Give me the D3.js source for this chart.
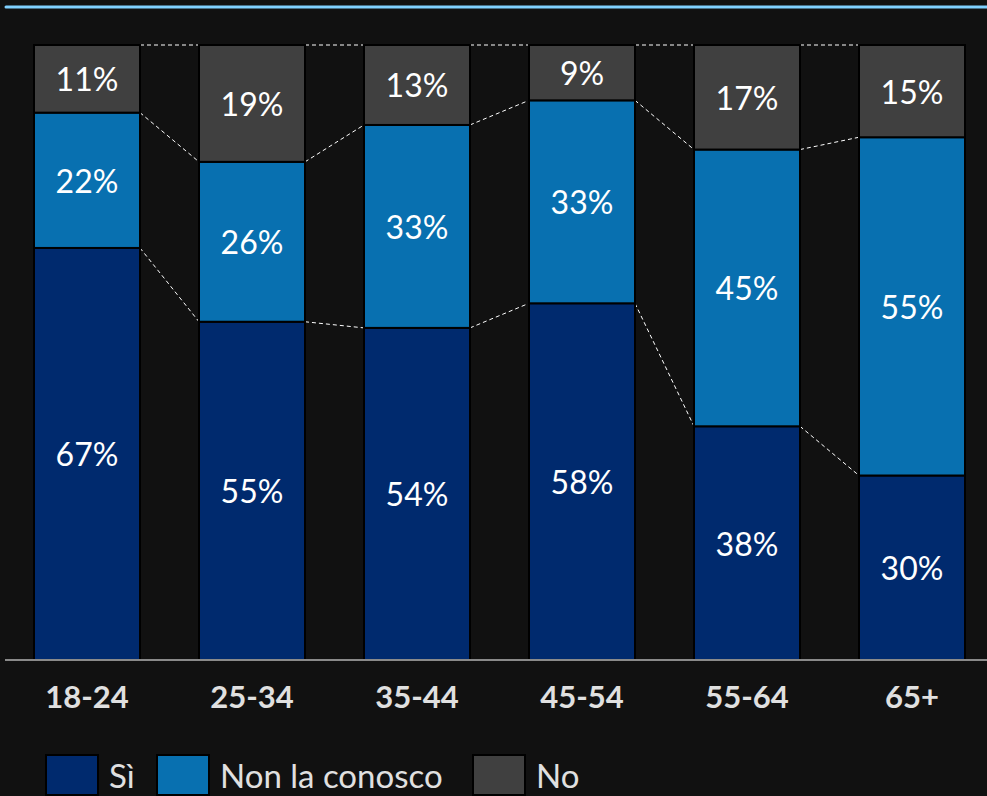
<!DOCTYPE html>
<html>
<head>
<meta charset="utf-8">
<script src="https://cdn.jsdelivr.net/npm/d3@7/dist/d3.min.js"></script>
<style>
  html, body { margin: 0; padding: 0; background: #111111; }
  svg { display: block; }
</style>
</head>
<body>
<svg id="chart" width="987" height="796"></svg>
<script>
// Age groups and answer shares (percent)
const categories = ["18-24", "25-34", "35-44", "45-54", "55-64", "65+"];
const seriesNames = ["Sì", "Non la conosco", "No"];
const si = [67, 55, 54, 58, 38, 30];
const nonLaConosco = [22, 26, 33, 33, 45, 55];
const no = [11, 19, 13, 9, 17, 15];
const seriesColors = ["#002a6e", "#0870b0", "#404040"];

const svg = d3.select("#chart");
const W = 987, H = 796;
const FONT = "Lato, 'Open Sans', sans-serif";

svg.append("rect").attr("width", W).attr("height", H).attr("fill", "#111111");

// top accent line
svg.append("line")
  .attr("x1", 6).attr("x2", W).attr("y1", 7).attr("y2", 7)
  .attr("stroke", "#7fd0ff").attr("stroke-width", 3).attr("stroke-linecap", "round");

const rows = categories.map((c, i) => ({ cat: c, "Sì": si[i], "Non la conosco": nonLaConosco[i], "No": no[i] }));
const stacked = d3.stack().keys(seriesNames)(rows);

const x = d3.scaleBand().domain(categories).range([34, 965]).paddingInner(0.3576).paddingOuter(0);
const y = d3.scaleLinear().domain([0, 100]).range([660, 45]);

const color = d3.scaleOrdinal().domain(seriesNames).range(seriesColors);

// dashed connectors between neighbouring bars at each segment boundary
const connectors = svg.append("g");
for (let i = 0; i < categories.length - 1; i++) {
  stacked.forEach(layer => {
    const a = layer[i][1], b = layer[i + 1][1];
    connectors.append("line")
      .attr("x1", x(categories[i]) + x.bandwidth()).attr("x2", x(categories[i + 1]))
      .attr("y1", y(a)).attr("y2", y(b))
      .attr("stroke", "#ffffff").attr("stroke-width", 1)
      .attr("stroke-dasharray", "4,3");
  });
}

// stacked bars
const layers = svg.append("g").selectAll("g").data(stacked).join("g")
  .attr("fill", d => color(d.key));

layers.selectAll("rect").data(d => d).join("rect")
  .attr("x", d => x(d.data.cat))
  .attr("y", d => y(d[1]))
  .attr("width", x.bandwidth())
  .attr("height", d => y(d[0]) - y(d[1]))
  .attr("stroke", "#000000").attr("stroke-width", 2);

// value labels
layers.selectAll("text").data(d => d).join("text")
  .attr("x", d => x(d.data.cat) + x.bandwidth() / 2)
  .attr("y", d => (y(d[0]) + y(d[1])) / 2)
  .attr("text-anchor", "middle").attr("dominant-baseline", "central")
  .attr("fill", "#ffffff")
  .attr("font-family", FONT)
  .attr("font-size", 32)
  .text(d => (d[1] - d[0]) + "%");

// baseline axis
const axis = svg.append("g").attr("transform", "translate(0,660)")
  .call(d3.axisBottom(x).tickSize(0));
axis.select(".domain").remove();
axis.append("line").attr("x1", 5).attr("x2", W).attr("y1", 0).attr("y2", 0)
  .attr("stroke", "#8a8a8a").attr("stroke-width", 2);
axis.selectAll(".tick text")
  .attr("y", 48).attr("dy", null)
  .attr("fill", "#e0e0e0")
  .attr("font-family", FONT)
  .attr("font-weight", "bold")
  .attr("font-size", 31);

// legend
const legendX = [46, 157, 473];
const legend = svg.append("g").selectAll("g").data(seriesNames).join("g")
  .attr("transform", (d, i) => `translate(${legendX[i]},755)`);
legend.append("rect").attr("width", 52).attr("height", 40)
  .attr("fill", d => color(d)).attr("stroke", "#000000").attr("stroke-width", 2);
legend.append("text").attr("x", 63).attr("y", 33)
  .attr("fill", "#e0e0e0")
  .attr("font-family", FONT)
  .attr("font-size", 33)
  .text(d => d);
</script>
</body>
</html>
